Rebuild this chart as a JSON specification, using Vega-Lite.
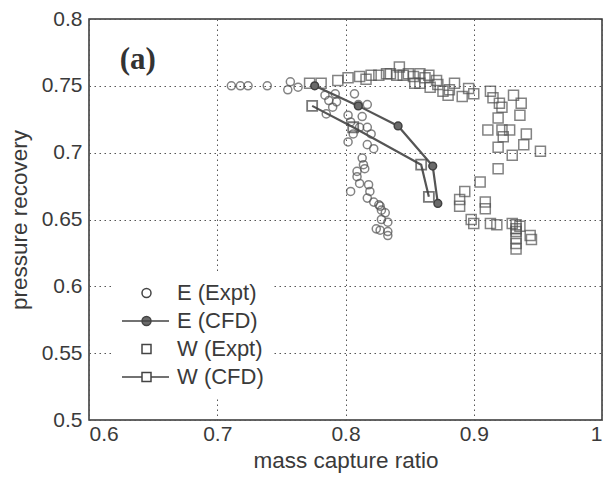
{
  "$schema": "https://vega.github.io/schema/vega-lite/v6.json",
  "width": 513,
  "height": 401,
  "autosize": {"type": "none"},
  "padding": {"left": 89, "top": 19, "right": 3, "bottom": 64},
  "background": "white",
  "config": {
    "view": {"stroke": "#333", "strokeWidth": 1.5},
    "font": "Liberation Sans",
    "axis": {
      "domain": false,
      "ticks": false,
      "grid": true,
      "gridColor": "#555",
      "gridDash": [1.5, 3.5],
      "gridWidth": 1,
      "labelFont": "Liberation Sans",
      "labelFontSize": 21,
      "labelColor": "#3a3a3a",
      "titleFont": "Liberation Sans",
      "titleFontSize": 22.5,
      "titleFontWeight": "normal",
      "titleColor": "#3a3a3a"
    }
  },
  "datasets": {
    "pts": [
      {"s": "E (Expt)", "x": 0.711, "y": 0.750},
      {"s": "E (Expt)", "x": 0.718, "y": 0.750},
      {"s": "E (Expt)", "x": 0.724, "y": 0.750},
      {"s": "E (Expt)", "x": 0.739, "y": 0.750},
      {"s": "E (Expt)", "x": 0.757, "y": 0.753},
      {"s": "E (Expt)", "x": 0.755, "y": 0.747},
      {"s": "E (Expt)", "x": 0.763, "y": 0.749},
      {"s": "E (Expt)", "x": 0.784, "y": 0.743},
      {"s": "E (Expt)", "x": 0.787, "y": 0.739},
      {"s": "E (Expt)", "x": 0.790, "y": 0.734},
      {"s": "E (Expt)", "x": 0.792, "y": 0.744},
      {"s": "E (Expt)", "x": 0.793, "y": 0.738},
      {"s": "E (Expt)", "x": 0.785, "y": 0.729},
      {"s": "E (Expt)", "x": 0.807, "y": 0.744},
      {"s": "E (Expt)", "x": 0.810, "y": 0.736},
      {"s": "E (Expt)", "x": 0.817, "y": 0.736},
      {"s": "E (Expt)", "x": 0.802, "y": 0.728},
      {"s": "E (Expt)", "x": 0.813, "y": 0.727},
      {"s": "E (Expt)", "x": 0.804, "y": 0.723},
      {"s": "E (Expt)", "x": 0.811, "y": 0.719},
      {"s": "E (Expt)", "x": 0.817, "y": 0.719},
      {"s": "E (Expt)", "x": 0.806, "y": 0.714},
      {"s": "E (Expt)", "x": 0.820, "y": 0.714},
      {"s": "E (Expt)", "x": 0.802, "y": 0.708},
      {"s": "E (Expt)", "x": 0.817, "y": 0.706},
      {"s": "E (Expt)", "x": 0.822, "y": 0.703},
      {"s": "E (Expt)", "x": 0.813, "y": 0.696},
      {"s": "E (Expt)", "x": 0.814, "y": 0.691},
      {"s": "E (Expt)", "x": 0.815, "y": 0.688},
      {"s": "E (Expt)", "x": 0.809, "y": 0.686},
      {"s": "E (Expt)", "x": 0.809, "y": 0.682},
      {"s": "E (Expt)", "x": 0.811, "y": 0.677},
      {"s": "E (Expt)", "x": 0.818, "y": 0.676},
      {"s": "E (Expt)", "x": 0.804, "y": 0.671},
      {"s": "E (Expt)", "x": 0.819, "y": 0.671},
      {"s": "E (Expt)", "x": 0.817, "y": 0.666},
      {"s": "E (Expt)", "x": 0.822, "y": 0.663},
      {"s": "E (Expt)", "x": 0.826, "y": 0.661},
      {"s": "E (Expt)", "x": 0.827, "y": 0.660},
      {"s": "E (Expt)", "x": 0.828, "y": 0.657},
      {"s": "E (Expt)", "x": 0.831, "y": 0.655},
      {"s": "E (Expt)", "x": 0.828, "y": 0.650},
      {"s": "E (Expt)", "x": 0.833, "y": 0.648},
      {"s": "E (Expt)", "x": 0.824, "y": 0.643},
      {"s": "E (Expt)", "x": 0.827, "y": 0.642},
      {"s": "E (Expt)", "x": 0.833, "y": 0.641},
      {"s": "E (Expt)", "x": 0.833, "y": 0.638},
      {"s": "W (Expt)", "x": 0.772, "y": 0.752},
      {"s": "W (Expt)", "x": 0.781, "y": 0.752},
      {"s": "W (Expt)", "x": 0.794, "y": 0.754},
      {"s": "W (Expt)", "x": 0.802, "y": 0.756},
      {"s": "W (Expt)", "x": 0.811, "y": 0.757},
      {"s": "W (Expt)", "x": 0.816, "y": 0.755},
      {"s": "W (Expt)", "x": 0.820, "y": 0.758},
      {"s": "W (Expt)", "x": 0.826, "y": 0.758},
      {"s": "W (Expt)", "x": 0.832, "y": 0.759},
      {"s": "W (Expt)", "x": 0.835, "y": 0.759},
      {"s": "W (Expt)", "x": 0.840, "y": 0.758},
      {"s": "W (Expt)", "x": 0.842, "y": 0.764},
      {"s": "W (Expt)", "x": 0.845, "y": 0.758},
      {"s": "W (Expt)", "x": 0.849, "y": 0.759},
      {"s": "W (Expt)", "x": 0.853, "y": 0.757},
      {"s": "W (Expt)", "x": 0.854, "y": 0.752},
      {"s": "W (Expt)", "x": 0.858, "y": 0.759},
      {"s": "W (Expt)", "x": 0.858, "y": 0.752},
      {"s": "W (Expt)", "x": 0.862, "y": 0.756},
      {"s": "W (Expt)", "x": 0.865, "y": 0.758},
      {"s": "W (Expt)", "x": 0.866, "y": 0.749},
      {"s": "W (Expt)", "x": 0.871, "y": 0.754},
      {"s": "W (Expt)", "x": 0.872, "y": 0.751},
      {"s": "W (Expt)", "x": 0.876, "y": 0.746},
      {"s": "W (Expt)", "x": 0.880, "y": 0.743},
      {"s": "W (Expt)", "x": 0.881, "y": 0.747},
      {"s": "W (Expt)", "x": 0.885, "y": 0.752},
      {"s": "W (Expt)", "x": 0.891, "y": 0.742},
      {"s": "W (Expt)", "x": 0.896, "y": 0.748},
      {"s": "W (Expt)", "x": 0.900, "y": 0.744},
      {"s": "W (Expt)", "x": 0.913, "y": 0.746},
      {"s": "W (Expt)", "x": 0.915, "y": 0.741},
      {"s": "W (Expt)", "x": 0.920, "y": 0.737},
      {"s": "W (Expt)", "x": 0.922, "y": 0.734},
      {"s": "W (Expt)", "x": 0.931, "y": 0.743},
      {"s": "W (Expt)", "x": 0.937, "y": 0.737},
      {"s": "W (Expt)", "x": 0.936, "y": 0.728},
      {"s": "W (Expt)", "x": 0.919, "y": 0.726},
      {"s": "W (Expt)", "x": 0.911, "y": 0.717},
      {"s": "W (Expt)", "x": 0.922, "y": 0.717},
      {"s": "W (Expt)", "x": 0.928, "y": 0.717},
      {"s": "W (Expt)", "x": 0.923, "y": 0.712},
      {"s": "W (Expt)", "x": 0.941, "y": 0.714},
      {"s": "W (Expt)", "x": 0.919, "y": 0.704},
      {"s": "W (Expt)", "x": 0.939, "y": 0.706},
      {"s": "W (Expt)", "x": 0.930, "y": 0.698},
      {"s": "W (Expt)", "x": 0.952, "y": 0.701},
      {"s": "W (Expt)", "x": 0.919, "y": 0.688},
      {"s": "W (Expt)", "x": 0.905, "y": 0.678},
      {"s": "W (Expt)", "x": 0.893, "y": 0.671},
      {"s": "W (Expt)", "x": 0.889, "y": 0.665},
      {"s": "W (Expt)", "x": 0.889, "y": 0.660},
      {"s": "W (Expt)", "x": 0.909, "y": 0.663},
      {"s": "W (Expt)", "x": 0.909, "y": 0.658},
      {"s": "W (Expt)", "x": 0.898, "y": 0.650},
      {"s": "W (Expt)", "x": 0.900, "y": 0.647},
      {"s": "W (Expt)", "x": 0.913, "y": 0.647},
      {"s": "W (Expt)", "x": 0.918, "y": 0.646},
      {"s": "W (Expt)", "x": 0.930, "y": 0.647},
      {"s": "W (Expt)", "x": 0.933, "y": 0.646},
      {"s": "W (Expt)", "x": 0.933, "y": 0.643},
      {"s": "W (Expt)", "x": 0.936, "y": 0.645},
      {"s": "W (Expt)", "x": 0.944, "y": 0.638},
      {"s": "W (Expt)", "x": 0.945, "y": 0.635},
      {"s": "W (Expt)", "x": 0.933, "y": 0.641},
      {"s": "W (Expt)", "x": 0.933, "y": 0.636},
      {"s": "W (Expt)", "x": 0.933, "y": 0.632},
      {"s": "W (Expt)", "x": 0.933, "y": 0.628},
      {"s": "E (CFD)", "o": 1, "x": 0.776, "y": 0.750},
      {"s": "E (CFD)", "o": 2, "x": 0.810, "y": 0.735},
      {"s": "E (CFD)", "o": 3, "x": 0.841, "y": 0.720},
      {"s": "E (CFD)", "o": 4, "x": 0.868, "y": 0.690},
      {"s": "E (CFD)", "o": 5, "x": 0.872, "y": 0.662},
      {"s": "W (CFD)", "o": 1, "x": 0.774, "y": 0.735},
      {"s": "W (CFD)", "o": 2, "x": 0.806, "y": 0.719},
      {"s": "W (CFD)", "o": 3, "x": 0.859, "y": 0.691},
      {"s": "W (CFD)", "o": 4, "x": 0.865, "y": 0.667}
    ]
  },
  "data": {"name": "pts"},
  "layer": [
    {
      "transform": [{"filter": "datum.s === 'E (CFD)' || datum.s === 'W (CFD)'"}],
      "mark": {"type": "line", "color": "#555", "strokeWidth": 2.2},
      "encoding": {
        "x": {"field": "x", "type": "quantitative", "title": "mass capture ratio",
              "scale": {"domain": [0.6, 1], "nice": false, "zero": false},
              "axis": {"values": [0.6, 0.7, 0.8, 0.9, 1], "format": "~g", "labelPadding": 3, "titlePadding": 5}},
        "y": {"field": "y", "type": "quantitative", "title": "pressure recovery",
              "scale": {"domain": [0.5, 0.8], "nice": false, "zero": false},
              "axis": {"values": [0.5, 0.55, 0.6, 0.65, 0.7, 0.75, 0.8], "format": "~g", "labelPadding": 7, "titlePadding": 10}},
        "detail": {"field": "s"}, "order": {"field": "o", "type": "quantitative"}}
    },
    {
      "transform": [{"filter": "datum.s === 'E (Expt)'"}],
      "mark": {"type": "point", "shape": "circle", "filled": false, "size": 65, "stroke": "#505050", "strokeWidth": 1.5},
      "encoding": {"x": {"field": "x", "type": "quantitative"}, "y": {"field": "y", "type": "quantitative"}}
    },
    {
      "transform": [{"filter": "datum.s === 'W (Expt)'"}],
      "mark": {"type": "point", "shape": "square", "filled": false, "size": 100, "stroke": "#505050", "strokeWidth": 1.5},
      "encoding": {"x": {"field": "x", "type": "quantitative"}, "y": {"field": "y", "type": "quantitative"}}
    },
    {
      "transform": [{"filter": "datum.s === 'E (CFD)'"}],
      "mark": {"type": "point", "shape": "circle", "filled": true, "size": 60, "fill": "#6a6a6a", "fillOpacity": 1, "stroke": "#404040", "strokeWidth": 1.5},
      "encoding": {"x": {"field": "x", "type": "quantitative"}, "y": {"field": "y", "type": "quantitative"}}
    },
    {
      "transform": [{"filter": "datum.s === 'W (CFD)'"}],
      "mark": {"type": "point", "shape": "square", "filled": false, "size": 100, "stroke": "#404040", "strokeWidth": 1.8},
      "encoding": {"x": {"field": "x", "type": "quantitative"}, "y": {"field": "y", "type": "quantitative"}}
    },
    {
      "transform": [{"filter": "datum.s === 'W (CFD)' && datum.o === 1"}],
      "mark": {"type": "text", "text": "(a)", "font": "Liberation Serif", "fontSize": 31, "fontWeight": "bold", "fill": "#333", "align": "center", "baseline": "middle"},
      "encoding": {
        "x": {"datum": 0.638, "type": "quantitative"},
        "y": {"datum": 0.769, "type": "quantitative"}
      }
    },
    {
      "mark": {"type": "point", "opacity": 0, "stroke": "#444", "strokeWidth": 1.5, "size": 100},
      "encoding": {
        "x": {"field": "x", "type": "quantitative"}, "y": {"field": "y", "type": "quantitative"},
        "shape": {"field": "s", "type": "nominal",
          "scale": {"domain": ["E (Expt)", "E (CFD)", "W (Expt)", "W (CFD)"],
                    "range": [
                      "M1.8,0A0.9,0.9 0 1,0 3.6,0A0.9,0.9 0 1,0 1.8,0Z",
                      "M-2.2,0H7.2M1.8,0A0.9,0.9 0 1,0 3.6,0A0.9,0.9 0 1,0 1.8,0Z",
                      "M1.8,-0.9H3.6V0.9H1.8Z",
                      "M-2.2,0H1.8M3.6,0H7.2M1.8,-0.9H3.6V0.9H1.8Z"
                    ]},
          "legend": {
            "title": null,
            "orient": "none",
            "legendX": 23,
            "legendY": 253,
            "padding": 10,
            "fillColor": "white",
            "symbolSize": 100,
            "symbolStrokeWidth": 1.5,
            "symbolStrokeColor": "#444",
            "labelFont": "Liberation Sans",
            "labelFontSize": 22,
            "labelColor": "#3a3a3a",
            "labelOffset": 33,
            "rowPadding": 6,
            "encode": {"symbols": {"update": {"opacity": {"value": 1}, "strokeOpacity": {"value": 1}, "fillOpacity": {"value": 1}}}}
          }},
        "fill": {"field": "s", "type": "nominal",
          "scale": {"domain": ["E (Expt)", "E (CFD)", "W (Expt)", "W (CFD)"],
                    "range": ["transparent", "#6a6a6a", "transparent", "transparent"]},
          "legend": {
            "title": null,
            "orient": "none",
            "legendX": 23,
            "legendY": 253,
            "padding": 10,
            "fillColor": "white",
            "symbolSize": 100,
            "symbolStrokeWidth": 1.5,
            "symbolStrokeColor": "#444",
            "labelFont": "Liberation Sans",
            "labelFontSize": 22,
            "labelColor": "#3a3a3a",
            "labelOffset": 33,
            "rowPadding": 6,
            "encode": {"symbols": {"update": {"opacity": {"value": 1}, "strokeOpacity": {"value": 1}, "fillOpacity": {"value": 1}}}}
          }}
      }
    }
  ]
}
